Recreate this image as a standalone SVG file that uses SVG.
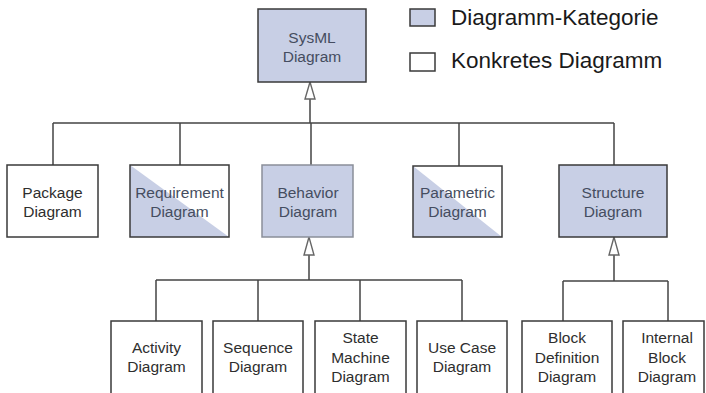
<svg xmlns="http://www.w3.org/2000/svg" width="706" height="393" viewBox="0 0 706 393">
  <style>
    .box { stroke: #3a3a3a; stroke-width: 1.5; fill: #ffffff; }
    .cat { fill: #c8cfe5; }
    .half { fill: #c8cfe5; stroke: none; }
    .edge { stroke: #3a3a3a; stroke-width: 1.5; fill: none; }
    .soft { stroke: #8a8f99; }
    .lbl { font-family: "Liberation Sans", Arial, sans-serif; font-size: 15.5px; text-anchor: middle; fill: #2e2e2e; }
    .lbl.c { fill: #454d60; }
    .leg { font-family: "Liberation Sans", Arial, sans-serif; font-size: 22.5px; fill: #1a1a1a; }
    .wire { stroke: #444; stroke-width: 1.5; fill: none; }
    .head { stroke: #666; stroke-width: 1.4; fill: #ffffff; }
  </style>

  <rect width="706" height="393" fill="#ffffff"/>

  <!-- legend -->
  <g id="legend">
    <rect class="box cat" x="410" y="9" width="25" height="17"/>
    <text class="leg" x="451" y="25">Diagramm-Kategorie</text>
    <rect class="box" x="410" y="53" width="25" height="18"/>
    <text class="leg" x="451" y="68">Konkretes Diagramm</text>
  </g>

  <!-- connectors -->
  <g id="connectors">
    <!-- SysML to second level -->
    <path class="wire" d="M310 99 V123 M53 123 H614 M53 123 V165 M180 123 V165 M311 123 V165 M459 123 V166 M614 123 V165"/>
    <polygon class="head" points="310,82 305,99 315,99"/>
    <!-- Behavior to its diagrams -->
    <path class="wire" d="M309 255 V280 M156 280 H462 M156 280 V321 M258 280 V321 M360 280 V321 M462 280 V321"/>
    <polygon class="head" points="309,237 304,255 314,255"/>
    <!-- Structure to its diagrams -->
    <path class="wire" d="M614 255 V281 M563 281 H668 M563 281 V321 M668 281 V321"/>
    <polygon class="head" points="614,237 609,255 619,255"/>
  </g>

  <g id="sysml">
    <rect class="box cat" x="258" y="9" width="108" height="73"/>
    <text class="lbl c" x="312" y="43">SysML</text>
    <text class="lbl c" x="312" y="62">Diagram</text>
  </g>

  <g id="package">
    <rect class="box" x="7" y="165" width="91" height="72"/>
    <text class="lbl" x="52.5" y="198">Package</text>
    <text class="lbl" x="52.5" y="217">Diagram</text>
  </g>

  <!-- half category: lower-left triangle shaded -->
  <g id="requirement">
    <rect x="130" y="165" width="99" height="72" fill="#ffffff"/>
    <polygon class="half" points="130,165 229,237 130,237"/>
    <rect class="edge" x="130" y="165" width="99" height="72"/>
    <text class="lbl c" x="179.5" y="198">Requirement</text>
    <text class="lbl c" x="179.5" y="217">Diagram</text>
  </g>

  <g id="behavior">
    <rect class="box cat soft" x="262" y="165" width="91" height="72"/>
    <text class="lbl c" x="308" y="198">Behavior</text>
    <text class="lbl c" x="308" y="217">Diagram</text>
  </g>

  <g id="parametric">
    <rect x="413" y="166" width="89" height="71" fill="#ffffff"/>
    <polygon class="half" points="413,166 502,237 413,237"/>
    <rect class="edge" x="413" y="166" width="89" height="71"/>
    <text class="lbl c" x="457.5" y="198">Parametric</text>
    <text class="lbl c" x="457.5" y="217">Diagram</text>
  </g>

  <g id="structure">
    <rect class="box cat" x="559" y="165" width="108" height="72"/>
    <text class="lbl c" x="613" y="198">Structure</text>
    <text class="lbl c" x="613" y="217">Diagram</text>
  </g>

  <g id="activity">
    <rect class="box" x="111" y="321" width="91" height="80"/>
    <text class="lbl" x="156.5" y="353">Activity</text>
    <text class="lbl" x="156.5" y="372">Diagram</text>
  </g>

  <g id="sequence">
    <rect class="box" x="213" y="321" width="90" height="80"/>
    <text class="lbl" x="258" y="353">Sequence</text>
    <text class="lbl" x="258" y="372">Diagram</text>
  </g>

  <g id="state-machine">
    <rect class="box" x="315" y="321" width="91" height="80"/>
    <text class="lbl" x="360.5" y="343">State</text>
    <text class="lbl" x="360.5" y="362.5">Machine</text>
    <text class="lbl" x="360.5" y="382">Diagram</text>
  </g>

  <g id="use-case">
    <rect class="box" x="417" y="321" width="90" height="80"/>
    <text class="lbl" x="462" y="353">Use Case</text>
    <text class="lbl" x="462" y="372">Diagram</text>
  </g>

  <g id="block-definition">
    <rect class="box" x="522" y="321" width="90" height="80"/>
    <text class="lbl" x="567" y="343">Block</text>
    <text class="lbl" x="567" y="362.5">Definition</text>
    <text class="lbl" x="567" y="382">Diagram</text>
  </g>

  <g id="internal-block">
    <rect class="box" x="623" y="321" width="81" height="80"/>
    <text class="lbl" x="667" y="343">Internal</text>
    <text class="lbl" x="667" y="362.5">Block</text>
    <text class="lbl" x="667" y="382">Diagram</text>
  </g>
</svg>
